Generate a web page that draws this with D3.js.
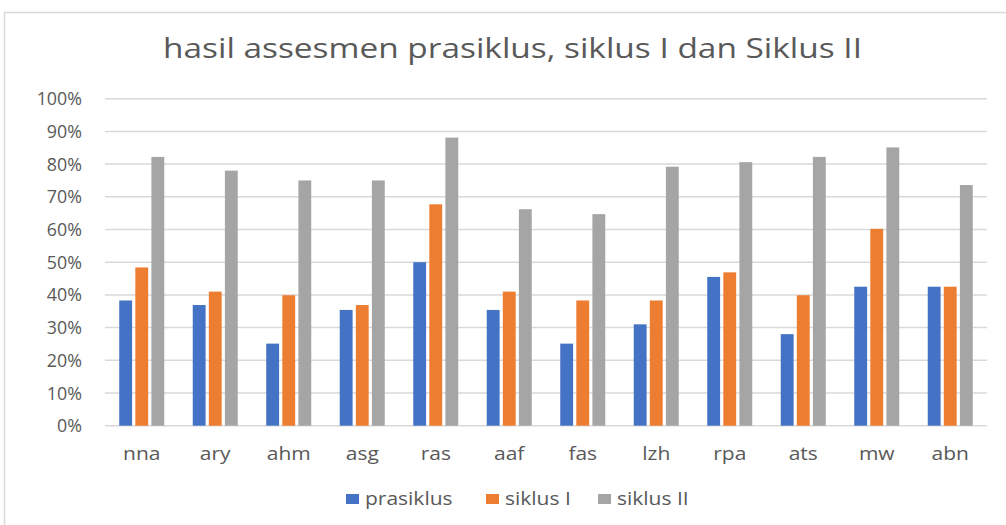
<!DOCTYPE html>
<html lang="en">
  <head>
    <meta charset="utf-8">
    <title>hasil assesmen</title>
    <script src="https://d3js.org/d3.v7.min.js"></script>
    <style>
      body { margin: 0; background: #fff; }
      text { font-family: "Open Sans", sans-serif; fill: #595959; }
    </style>
  </head>
  <body>
    <div id="chart"></div>
    <script>
      // data
      var names = ["nna", "ary", "ahm", "asg", "ras", "aaf", "fas", "lzh", "rpa", "ats", "mw", "abn"];
      var seriesNames = ["prasiklus", "siklus I", "siklus II"];
      var prasiklus = [0.383, 0.369, 0.251, 0.354, 0.500, 0.354, 0.251, 0.310, 0.455, 0.280, 0.425, 0.425];
      var siklus1 = [0.484, 0.410, 0.399, 0.369, 0.677, 0.410, 0.383, 0.383, 0.469, 0.399, 0.602, 0.425];
      var siklus2 = [0.822, 0.780, 0.750, 0.750, 0.881, 0.662, 0.647, 0.792, 0.806, 0.822, 0.851, 0.736];
      var colors = ["#4472C4", "#ED7D31", "#A5A5A5"];
      var yTicks = [0, 0.1, 0.2, 0.3, 0.4, 0.5, 0.6, 0.7, 0.8, 0.9, 1.0];

      var W = 1006, H = 525;
      var stretch = 1.2; // the screenshot text is a bit wide
      var svg = d3.select("#chart").append("svg").attr("width", W).attr("height", H);

      // chart border
      svg.append("rect").attr("x", 4.5).attr("y", 12.5).attr("width", 1020).attr("height", 540)
        .attr("fill", "none").attr("stroke", "#d9d9d9").attr("stroke-width", 1.5);

      var x = d3.scaleBand().domain(names).range([105, 987]);
      var xs = d3.scaleBand().domain(seriesNames).range([14.25, 59.25]).paddingInner(0.2);
      var y = d3.scaleLinear().domain([0, 1]).range([425.7, 98.7]);

      // gridlines
      svg.append("g").selectAll("line").data(yTicks).join("line")
        .attr("x1", 105).attr("x2", 987)
        .attr("y1", d => y(d)).attr("y2", d => y(d))
        .attr("stroke", "#d9d9d9").attr("stroke-width", 1.5);

      // y labels
      svg.append("g").selectAll("text").data(yTicks).join("text")
        .attr("transform", d => "translate(82," + (y(d) + 6.5) + ") scale(1.02,1)")
        .attr("text-anchor", "end").style("font-size", "17.5px")
        .text(d3.format(".0%"));

      // bars
      var all = [prasiklus, siklus1, siklus2];
      all.forEach(function (vals, si) {
        svg.append("g").selectAll("rect").data(vals).join("rect")
          .attr("x", (d, i) => x(names[i]) + xs(seriesNames[si]))
          .attr("width", xs.bandwidth())
          .attr("y", d => y(d))
          .attr("height", d => y(0) - y(d))
          .attr("fill", colors[si]);
      });

      // category labels
      svg.append("g").selectAll("text").data(names).join("text")
        .attr("transform", d => "translate(" + (x(d) + x.bandwidth() / 2) + ",460) scale(" + stretch + ",1)")
        .attr("text-anchor", "middle").style("font-size", "17.5px")
        .text(d => d);

      // title
      svg.append("text").attr("x", 163).attr("y", 58)
        .attr("textLength", 699).attr("lengthAdjust", "spacingAndGlyphs")
        .style("font-size", "27px")
        .text("hasil assesmen prasiklus, siklus I dan Siklus II");

      // legend
      var legX = [346, 486, 598];
      var lg = svg.append("g").selectAll("g").data(seriesNames).join("g")
        .attr("transform", (d, i) => "translate(" + legX[i] + ",499)");
      lg.append("rect").attr("x", 0).attr("y", -5).attr("width", 13).attr("height", 10)
        .attr("fill", (d, i) => colors[i]);
      lg.append("text").attr("transform", "translate(19,5.5) scale(" + stretch + ",1)")
        .style("font-size", "17.5px").text(d => d);
    </script>
  </body>
</html>
